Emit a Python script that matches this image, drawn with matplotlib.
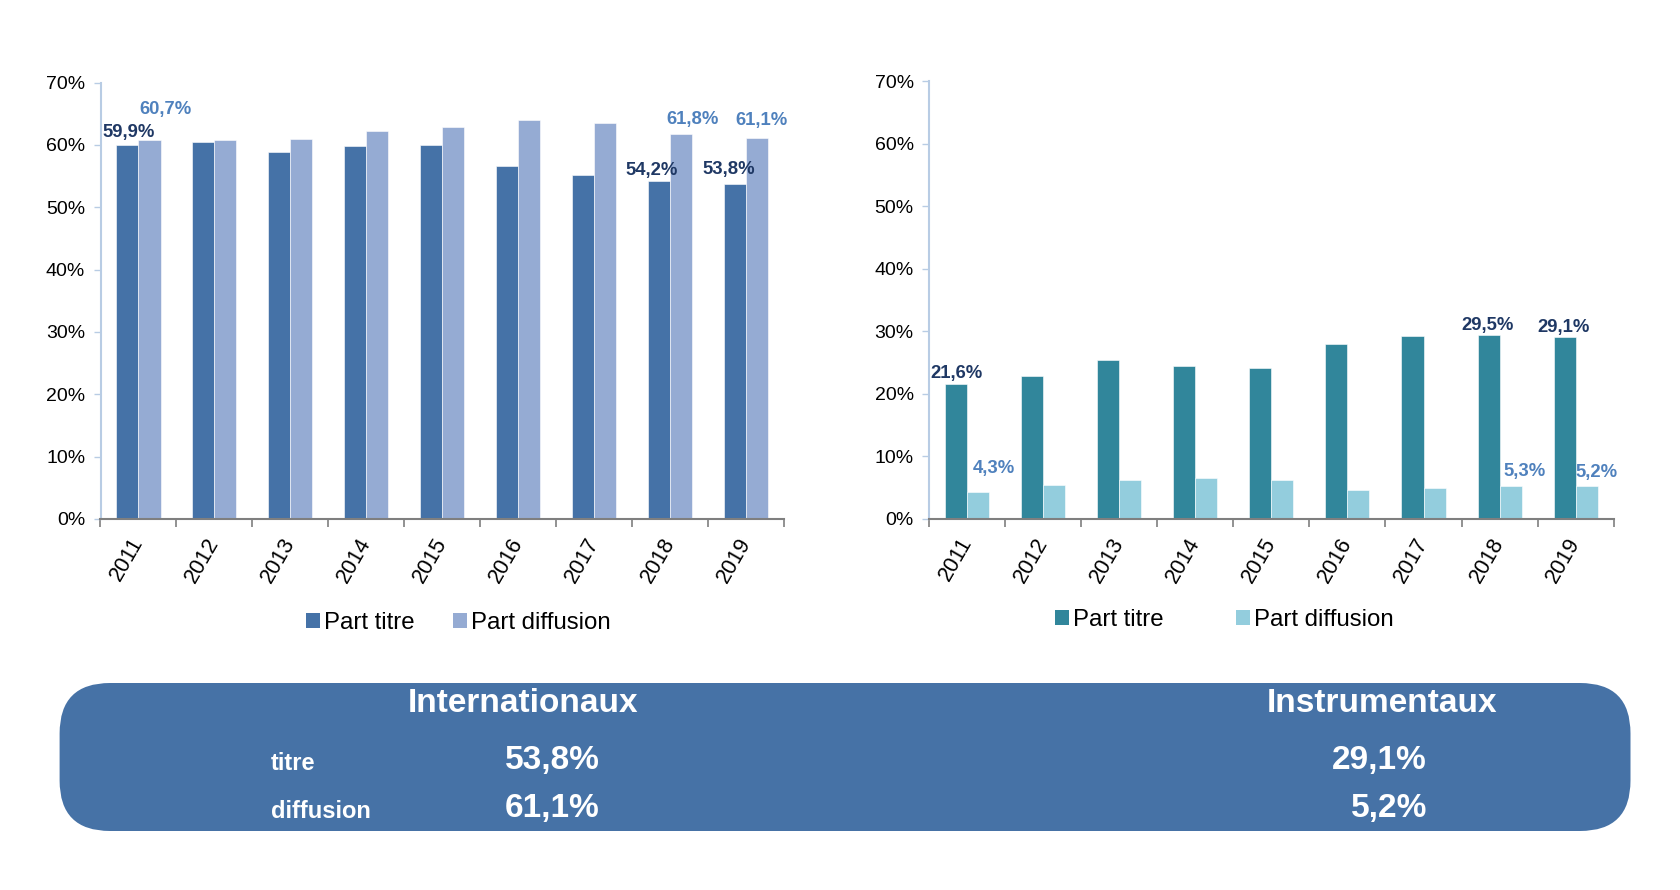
import matplotlib
matplotlib.use("Agg")
import matplotlib.pyplot as plt
from matplotlib.patches import FancyBboxPatch, Patch
import numpy as np

plt.rcParams['font.family'] = ['Liberation Sans', 'DejaVu Sans']

years = ["2011", "2012", "2013", "2014", "2015", "2016", "2017", "2018", "2019"]
intl_titre = [59.9, 60.4, 58.9, 59.8, 59.9, 56.6, 55.2, 54.2, 53.8]
intl_diffusion = [60.7, 60.7, 60.9, 62.3, 62.9, 64.0, 63.5, 61.8, 61.1]
instr_titre = [21.6, 22.9, 25.5, 24.5, 24.2, 28.0, 29.2, 29.5, 29.1]
instr_diffusion = [4.3, 5.5, 6.3, 6.6, 6.2, 4.6, 5.0, 5.3, 5.2]
series_names = ["Part titre", "Part diffusion"]
yticks = [0, 10, 20, 30, 40, 50, 60, 70]
labelled = [0, 7, 8]

summary_titles = ["Internationaux", "Instrumentaux"]
summary_rows = ["titre", "diffusion"]
summary_intl = ["53,8%", "61,1%"]
summary_instr = ["29,1%", "5,2%"]

def fmt(v):
    return f"{v:.1f}%".replace(".", ",")

W, H = 1680, 890
fig = plt.figure(figsize=(W / 100, H / 100), dpi=100)

c_lab_dark = "#1F3864"
c_lab_light = "#4F81BD"

def px2pt(d):
    return d * 1.077 * 0.72

def draw(ax, titre, diff, c1, c2, off1, off2):
    x = np.arange(len(years))
    w = 0.29
    ax.bar(x - w / 2, titre, w, color=c1, edgecolor="white", linewidth=0.4, zorder=2)
    ax.bar(x + w / 2, diff, w, color=c2, edgecolor="white", linewidth=0.4, zorder=2)
    ax.set_xlim(-0.5, len(years) - 0.5)
    ax.set_ylim(0, 70)
    ax.set_yticks(yticks)
    ax.set_yticklabels([f"{t}%" for t in yticks], fontsize=14)
    ax.set_xticks(x)
    ax.set_xticklabels(years, fontsize=15.6, rotation=60, ha="right", va="center",
                       rotation_mode="anchor")
    ax.tick_params(axis="x", which="major", length=0, pad=14.5)
    ax.set_xticks(np.arange(-0.5, len(years), 1.0), minor=True)
    ax.tick_params(axis="x", which="minor", length=6, width=1.2, color="#7F7F7F", direction="out")
    ax.tick_params(axis="y", length=5, width=1.0, color="#B8CCE4", pad=6)
    for s in ["top", "right"]:
        ax.spines[s].set_visible(False)
    ax.spines["left"].set_color("#B8CCE4")
    ax.spines["left"].set_linewidth(1.5)
    ax.spines["bottom"].set_color("#7F7F7F")
    ax.spines["bottom"].set_linewidth(1.5)
    ax.spines["bottom"].set_zorder(3)
    for k, i in enumerate(labelled):
        dx, dy = off1[k]
        ax.annotate(fmt(titre[i]), (x[i] - w / 2, titre[i]), xytext=(px2pt(dx), px2pt(dy)),
                    textcoords="offset points", ha="center", va="center",
                    fontsize=13.3, fontweight="bold", color=c_lab_dark)
        dx, dy = off2[k]
        ax.annotate(fmt(diff[i]), (x[i] + w / 2, diff[i]), xytext=(px2pt(dx), px2pt(dy)),
                    textcoords="offset points", ha="center", va="center",
                    fontsize=13.3, fontweight="bold", color=c_lab_light)

ax1 = fig.add_axes([100.5 / W, 0.4169, 683.6 / W, 0.4904])
ax2 = fig.add_axes([929.0 / W, 0.4169, 684.7 / W, 0.4916])

c_intl1, c_intl2 = "#4572A7", "#95ABD3"
c_ins1, c_ins2 = "#31869B", "#93CDDD"

draw(ax1, intl_titre, intl_diffusion, c_intl1, c_intl2,
     [(1, 12), (-7, 10), (-6, 13)], [(15, 29), (11, 13), (4, 16)])
draw(ax2, instr_titre, instr_diffusion, c_ins1, c_ins2,
     [(0, 10), (-1, 8), (-1, 9)], [(15, 22), (13, 13), (9, 13)])

def legend(c1, c2, cx, cy, colsp):
    handles = [Patch(facecolor=c1, edgecolor="none"), Patch(facecolor=c2, edgecolor="none")]
    fig.legend(handles, series_names, loc="center", bbox_to_anchor=(cx, cy), ncol=2,
               frameon=False, fontsize=17.3, handlelength=0.6, handleheight=0.6,
               handletextpad=0.15, columnspacing=colsp, borderaxespad=0)

legend(c_intl1, c_intl2, (459 - 1) / W, 0.3003, 1.6)
legend(c_ins1, c_ins2, (1229 - 5) / W, 0.3033, 3.0)

# summary box
bx0, bx1 = 59.6 / W, 1630.5 / W
by0, by1 = 1 - 831 / H, 1 - 683 / H
box = FancyBboxPatch((bx0, by0), bx1 - bx0, by1 - by0,
                     boxstyle="round,pad=0,rounding_size=0.03",
                     transform=fig.transFigure, facecolor="#4672A6", edgecolor="none",
                     mutation_aspect=W / H)
fig.patches.append(box)

tk = dict(color="white", fontweight="bold", transform=fig.transFigure)
fig.text(523 / W, 0.209, summary_titles[0], ha="center", va="center", fontsize=24, **tk)
fig.text(1382 / W, 0.209, summary_titles[1], ha="center", va="center", fontsize=24, **tk)
row_y = [0.1426, 0.088]
val_y = [0.146, 0.092]
for r in range(2):
    fig.text(271 / W, row_y[r], summary_rows[r], ha="left", va="center", fontsize=17, **tk)
    fig.text(552 / W, val_y[r], summary_intl[r], ha="center", va="center", fontsize=24, **tk)
    fig.text(1427 / W, val_y[r], summary_instr[r], ha="right", va="center", fontsize=24, **tk)

fig.savefig("out.png", dpi=100)
